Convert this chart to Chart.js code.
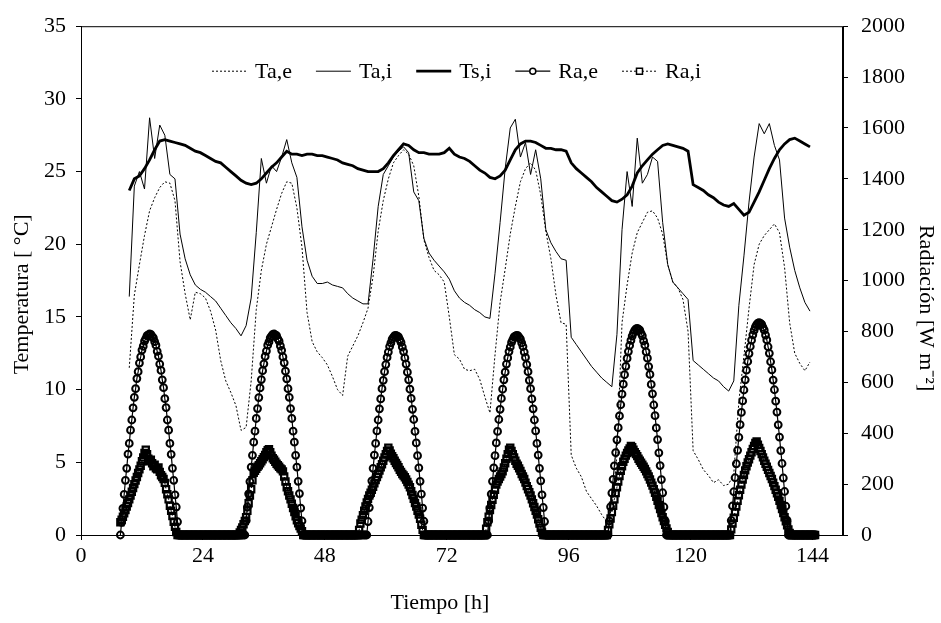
<!DOCTYPE html>
<html>
<head>
<meta charset="utf-8">
<title>Temperatura y radiación</title>
<script src="https://cdn.jsdelivr.net/npm/chart.js@4.4.1/dist/chart.umd.min.js"></script>
<style>
    html, body { margin: 0; padding: 0; background: #fff; }
    #chart { display: block; }
</style>
</head>
<body>
<canvas id="chart" width="941" height="623"></canvas>
<script>
(function () {
    "use strict";

    // temperatures, one value per hour, first sample at 9.5 h
    var tempStart = 9.5;
    var tempStep = 1;
    var taE = [
        11.5, 16.5, 18.6, 20.6, 22.3, 23.2, 23.9, 24.3, 24.2, 23.0,
        18.8, 16.6, 14.8, 16.7, 16.6, 16.3, 15.4, 14.1, 12.0, 10.6,
        9.8, 8.9, 7.2, 7.4, 10.6, 15.5, 18.2, 20.0, 21.2, 22.4,
        23.5, 24.3, 24.2, 22.5, 19.8, 15.3, 13.3, 12.6, 12.2, 11.7,
        10.9, 10.0, 9.6, 12.3, 13.0, 13.7, 14.6, 15.6, 17.8, 20.9,
        23.0, 24.5, 25.6, 26.1, 26.5, 26.2, 25.4, 23.3, 20.3, 19.1,
        18.2, 17.9, 17.4, 15.0, 12.4, 12.1, 11.4, 11.3, 11.4, 10.7,
        9.5, 8.4, 12.4, 16.0, 18.3, 20.7, 22.6, 24.3, 25.2, 25.6,
        25.1, 23.4, 20.9, 19.0, 16.5, 14.6, 14.5, 5.5, 4.6, 4.0,
        3.0, 2.5, 2.0, 1.4, 0.9, 1.8, 5.5, 14.6, 17.2, 19.4,
        20.8, 21.5, 22.2, 22.3, 21.8, 20.7, 18.6, 17.4, 17.0, 16.2,
        14.0, 5.8, 5.2, 4.5, 4.1, 3.6, 3.8, 3.4, 3.5, 4.2,
        9.2, 12.3, 15.6, 18.6, 20.0, 20.6, 21.0, 21.4, 20.8, 18.4,
        14.6, 12.5, 11.8, 11.3, 11.9
    ];
    var taI = [
        16.4, 24.0, 25.0, 23.8, 28.7, 25.9, 28.2, 27.5, 24.8, 24.5,
        20.7, 19.0, 17.9, 17.2, 16.9, 16.7, 16.4, 16.1, 15.6, 15.1,
        14.6, 14.2, 13.7, 14.4, 16.3, 20.8, 25.9, 24.2, 25.4, 25.0,
        26.0, 27.2, 25.6, 24.6, 21.2, 18.9, 17.8, 17.3, 17.3, 17.4,
        17.2, 17.1, 17.0, 16.6, 16.3, 16.1, 15.9, 15.9, 19.0, 22.6,
        24.8, 25.4, 26.0, 26.4, 26.7, 26.3, 23.6, 23.0, 20.4, 19.4,
        18.9, 18.5, 18.1, 17.6, 16.8, 16.3, 16.0, 15.8, 15.5, 15.3,
        15.0, 14.9, 18.0, 21.5, 25.2, 28.0, 28.6, 26.0, 27.0, 24.8,
        26.5, 24.5, 21.0, 20.1, 19.5, 19.0, 18.9, 13.6, 13.1, 12.6,
        12.1, 11.6, 11.2, 10.8, 10.5, 10.2, 13.8, 21.0, 25.0, 22.6,
        27.3, 24.2, 24.8, 26.0, 25.7, 21.5, 18.6, 17.4, 17.0, 16.6,
        16.2, 12.0, 11.7, 11.4, 11.1, 10.8, 10.6, 10.2, 9.9, 10.6,
        15.8, 19.2, 22.9, 26.0, 28.3, 27.6, 28.3, 26.8, 25.8, 21.8,
        19.8, 18.2, 17.0, 16.0, 15.4
    ];
    var tsI = [
        23.7, 24.5, 24.7, 25.2, 25.8, 26.5, 27.1, 27.2, 27.1, 27.0,
        26.9, 26.8, 26.6, 26.4, 26.3, 26.1, 25.9, 25.7, 25.6, 25.3,
        25.0, 24.7, 24.4, 24.2, 24.1, 24.2, 24.5, 24.9, 25.3, 25.6,
        26.0, 26.4, 26.2, 26.2, 26.1, 26.2, 26.2, 26.1, 26.1, 26.0,
        25.9, 25.8, 25.6, 25.5, 25.4, 25.2, 25.1, 25.0, 25.0, 25.0,
        25.2, 25.6, 26.1, 26.5, 26.9, 26.8, 26.5, 26.3, 26.3, 26.2,
        26.2, 26.2, 26.3, 26.6, 26.2, 26.0, 25.9, 25.7, 25.4, 25.1,
        24.9, 24.6, 24.5, 24.7, 25.1, 25.8, 26.5, 26.9, 27.1, 27.1,
        27.0, 26.8, 26.6, 26.6, 26.5, 26.5, 26.4, 25.6, 25.2, 24.9,
        24.6, 24.3, 23.9, 23.6, 23.3, 23.0, 22.9, 23.1, 23.4, 24.0,
        24.9, 25.4, 25.8, 26.2, 26.5, 26.8, 26.9, 26.8, 26.7, 26.6,
        26.4, 24.1, 23.9, 23.7, 23.4, 23.2, 22.9, 22.7, 22.6, 22.8,
        22.4, 22.0, 22.2, 22.9, 23.6, 24.4, 25.2, 25.9, 26.5, 26.9,
        27.2, 27.3, 27.1, 26.9, 26.7
    ];

    // radiation every 15 min, one row per day starting at these hours
    var radDayStart = [7.75, 31.75, 55.75, 79.75, 103.75, 127.75];
    var radStep = 0.25;
    var raE = [
        [0, 50, 105, 160, 215, 262, 318, 360, 412, 452, 500, 541, 575, 615, 642, 676, 700, 727, 742, 762, 772, 784, 787, 790,
         789, 781, 775, 760, 746, 722, 703, 672, 647, 610, 579, 536, 501, 452, 412, 360, 317, 262, 215, 158, 110, 52, 0,
         0, 0, 0, 0, 0, 0, 0, 0, 0, 0, 0, 0, 0, 0, 0, 0, 0, 0, 0, 0, 0, 0, 0, 0, 0, 0, 0, 0, 0, 0,
         0, 0, 0, 0, 0, 0, 0, 0, 0, 0, 0, 0, 0, 0, 0, 0, 0, 0, 0],
        [0, 0,
         0, 56, 110, 162, 210, 267, 313, 365, 408, 458, 497, 540, 578, 611, 646, 673, 702, 723, 746, 759, 775, 782, 789, 790,
         787, 784, 771, 762, 743, 726, 700, 677, 644, 614, 575, 541, 497, 458, 408, 365, 313, 267, 211, 163, 106, 55, 0,
         0, 0, 0, 0, 0, 0, 0, 0, 0, 0, 0, 0, 0, 0, 0, 0, 0, 0, 0, 0, 0, 0, 0, 0, 0, 0, 0, 0, 0, 0,
         0, 0, 0, 0, 0, 0, 0, 0, 0, 0, 0, 0, 0, 0, 0, 0, 0],
        [0, 0,
         0, 53, 108, 158, 213, 262, 314, 360, 409, 452, 496, 535, 575, 608, 642, 670, 698, 719, 741, 755, 770, 777, 784, 785,
         782, 779, 768, 757, 739, 721, 696, 672, 640, 610, 573, 537, 494, 454, 407, 362, 312, 264, 211, 161, 106, 54, 0,
         0, 0, 0, 0, 0, 0, 0, 0, 0, 0, 0, 0, 0, 0, 0, 0, 0, 0, 0, 0, 0, 0, 0, 0, 0, 0, 0, 0, 0, 0,
         0, 0, 0, 0, 0, 0, 0, 0, 0, 0, 0, 0, 0, 0, 0, 0, 0],
        [0,
         0, 55, 106, 161, 211, 264, 312, 362, 407, 454, 494, 537, 573, 610, 640, 672, 696, 721, 739, 757, 768, 779, 782, 785,
         784, 777, 770, 755, 741, 719, 698, 670, 642, 608, 575, 535, 496, 452, 409, 360, 314, 262, 213, 158, 108, 53, 0,
         0, 0, 0, 0, 0, 0, 0, 0, 0, 0, 0, 0, 0, 0, 0, 0, 0, 0, 0, 0, 0, 0, 0, 0, 0, 0, 0, 0, 0, 0,
         0, 0, 0, 0, 0, 0, 0, 0, 0, 0, 0, 0, 0, 0, 0, 0, 0, 0],
        [0, 55, 111, 165, 219, 272, 324, 374, 422, 468, 512, 554, 593, 630, 663, 694, 721, 745, 765, 782, 795, 804, 810, 812,
         809, 805, 793, 783, 763, 746, 720, 695, 662, 631, 592, 555, 511, 469, 421, 375, 323, 273, 218, 166, 110, 56, 0,
         0, 0, 0, 0, 0, 0, 0, 0, 0, 0, 0, 0, 0, 0, 0, 0, 0, 0, 0, 0, 0, 0, 0, 0, 0, 0, 0, 0, 0, 0,
         0, 0, 0, 0, 0, 0, 0, 0, 0, 0, 0, 0, 0, 0, 0, 0, 0, 0, 0],
        [0, 57, 114, 170, 225, 280, 333, 384, 434, 482, 527, 570, 610, 648, 682, 713, 741, 766, 787, 804, 818, 827, 833, 835,
         832, 828, 816, 805, 786, 767, 740, 714, 681, 649, 609, 571, 526, 483, 433, 385, 332, 281, 224, 171, 113, 58, 0,
         0, 0, 0, 0, 0, 0, 0, 0, 0, 0, 0, 0, 0, 0, 0, 0, 0, 0, 0, 0, 0]
    ];
    var raI = [
        [50, 60, 72, 85, 98, 112, 126, 140, 155, 170, 185, 200, 214, 228, 244, 258, 272, 290, 305, 322,
         335, 318, 300, 290, 296, 282, 270, 276, 262, 258, 265, 248, 235, 228, 220, 205, 180, 160, 140, 115,
         95, 75, 52, 32, 12, 0,
         0, 0, 0, 0, 0, 0, 0, 0, 0, 0, 0, 0, 0, 0, 0, 0, 0, 0, 0, 0, 0, 0, 0, 0, 0, 0, 0, 0, 0, 0,
         0, 0, 0, 0, 0, 0, 0, 0, 0, 0, 0, 0, 0, 0, 0, 0, 0, 0,
         10, 20],
        [30, 42, 55, 70, 95, 125, 155, 180, 215, 245, 252, 260, 268, 274, 282, 290, 298, 306, 315, 325,
         333, 337, 325, 312, 302, 296, 288, 280, 274, 268, 262, 258, 250, 230, 210, 188, 172, 155, 140, 123,
         106, 90, 74, 58, 46, 35, 25, 15, 0,
         0, 0, 0, 0, 0, 0, 0, 0, 0, 0, 0, 0, 0, 0, 0, 0, 0, 0, 0, 0, 0, 0, 0, 0, 0, 0, 0, 0, 0, 0,
         0, 0, 0, 0, 0, 0, 0, 0, 0, 0, 0, 0, 0,
         20, 45, 60, 78],
        [95, 112, 128, 142, 155, 166, 178, 190, 203, 216, 228, 240, 253, 266, 278, 292, 305, 318, 330, 343,
         332, 320, 310, 302, 292, 283, 275, 266, 256, 248, 240, 234, 227, 218, 208, 198, 188, 172, 157, 142,
         126, 112, 95, 80, 64, 40, 20, 0,
         0, 0, 0, 0, 0, 0, 0, 0, 0, 0, 0, 0, 0, 0, 0, 0, 0, 0, 0, 0, 0, 0, 0, 0, 0, 0, 0, 0, 0, 0,
         0, 0, 0, 0, 0, 0, 0, 0, 0, 0, 0, 0, 0, 0, 0, 0, 0, 0],
        [25, 50, 72, 98, 118, 138, 158, 178, 198, 210, 220, 230, 240, 250, 265, 282, 300, 318, 335, 343,
         330, 318, 305, 292, 280, 272, 262, 252, 240, 230, 220, 206, 192, 180, 168, 155, 140, 125, 110, 95,
         80, 62, 45, 28, 10, 0,
         0, 0, 0, 0, 0, 0, 0, 0, 0, 0, 0, 0, 0, 0, 0, 0, 0, 0, 0, 0, 0, 0, 0, 0, 0, 0, 0, 0, 0, 0,
         0, 0, 0, 0, 0, 0, 0, 0, 0, 0, 0, 0, 0, 0, 0, 0, 0, 0, 0, 0],
        [20, 42, 65, 90, 115, 140, 165, 188, 210, 232, 252, 270, 288, 300, 312, 322, 332, 340, 350, 345,
         335, 325, 318, 310, 300, 292, 284, 276, 268, 260, 250, 240, 230, 218, 206, 194, 180, 166, 150, 134,
         118, 102, 86, 70, 55, 40, 26, 12, 0,
         0, 0, 0, 0, 0, 0, 0, 0, 0, 0, 0, 0, 0, 0, 0, 0, 0, 0, 0, 0, 0, 0, 0, 0, 0, 0, 0, 0, 0, 0,
         0, 0, 0, 0, 0, 0, 0, 0, 0, 0, 0, 0, 0, 0, 0, 0, 0],
        [0, 22, 45, 68, 90, 112, 134, 156, 178, 198, 218, 236, 254, 270, 285, 298, 312, 325, 338, 350,
         362, 368, 355, 342, 330, 318, 305, 292, 280, 268, 256, 244, 232, 220, 206, 192, 178, 164, 150, 134,
         118, 102, 86, 70, 54, 38, 22, 8, 0,
         0, 0, 0, 0, 0, 0, 0, 0, 0, 0, 0, 0, 0, 0, 0, 0, 0, 0, 0]
    ];

    var xTicks = [0, 24, 48, 72, 96, 120, 144];
    var tempTicks = [0, 5, 10, 15, 20, 25, 30, 35];
    var radTicks = [0, 200, 400, 600, 800, 1000, 1200, 1400, 1600, 1800, 2000];

    var serif = "'Liberation Serif', 'Times New Roman', serif";

    function hourly(values) {
        return values.map(function (v, i) {
            return { x: tempStart + i * tempStep, y: v };
        });
    }

    function byDay(days) {
        var out = [];
        days.forEach(function (row, d) {
            row.forEach(function (v, i) {
                out.push({ x: radDayStart[d] + i * radStep, y: v });
            });
        });
        return out;
    }

    function fixTicks(list) {
        return function (axis) {
            axis.ticks = list.map(function (v) { return { value: v }; });
        };
    }

    function plain(value) {
        return String(value);
    }

    // legend sits inside the plot, like the original figure
    var insideLegend = {
        id: "insideLegend",
        afterDraw: function (chart) {
            var ctx = chart.ctx;
            var area = chart.chartArea;
            var x = area.left + 131;
            var y = area.top + 45;
            ctx.save();
            ctx.font = "22px " + serif;
            ctx.textBaseline = "middle";
            ctx.fillStyle = "#000";
            ctx.strokeStyle = "#000";
            chart.data.datasets.forEach(function (ds) {
                ctx.lineWidth = ds.borderWidth;
                ctx.setLineDash(ds.borderDash || []);
                ctx.beginPath();
                ctx.moveTo(x, y);
                ctx.lineTo(x + 35, y);
                ctx.stroke();
                ctx.setLineDash([]);
                if (ds.pointRadius > 0) {
                    ctx.lineWidth = 1.5;
                    ctx.beginPath();
                    if (ds.pointStyle === "rect") {
                        ctx.rect(x + 14.5, y - 3, 6, 6);
                    } else {
                        ctx.arc(x + 17.5, y, 3, 0, Math.PI * 2);
                    }
                    ctx.fillStyle = "#fff";
                    ctx.fill();
                    ctx.stroke();
                    ctx.fillStyle = "#000";
                }
                ctx.fillText(ds.label, x + 43, y + 1);
                x += 43 + ctx.measureText(ds.label).width + 24;
            });
            // closed frame around the plot
            ctx.lineWidth = 1;
            ctx.strokeRect(area.left + 0.5, area.top + 0.5, area.right - area.left - 1, area.bottom - area.top);
            ctx.restore();
        }
    };

    var tickFont = { family: serif, size: 22 };

    new Chart(document.getElementById("chart"), {
        type: "line",
        data: {
            datasets: [
                {
                    label: "Ta,e",
                    data: hourly(taE),
                    yAxisID: "yT",
                    borderColor: "#000",
                    borderWidth: 1,
                    borderDash: [2, 2],
                    pointRadius: 0,
                    order: 4
                },
                {
                    label: "Ta,i",
                    data: hourly(taI),
                    yAxisID: "yT",
                    borderColor: "#000",
                    borderWidth: 1,
                    pointRadius: 0,
                    order: 3
                },
                {
                    label: "Ts,i",
                    data: hourly(tsI),
                    yAxisID: "yT",
                    borderColor: "#000",
                    borderWidth: 2.8,
                    pointRadius: 0,
                    order: 2
                },
                {
                    label: "Ra,e",
                    data: byDay(raE),
                    yAxisID: "yR",
                    borderColor: "#000",
                    borderWidth: 1.2,
                    pointStyle: "circle",
                    pointRadius: 3.4,
                    pointBorderWidth: 2,
                    pointBorderColor: "#000",
                    pointBackgroundColor: "rgba(255,255,255,0)",
                    clip: false,
                    order: 1
                },
                {
                    label: "Ra,i",
                    data: byDay(raI),
                    yAxisID: "yR",
                    borderColor: "#000",
                    borderWidth: 1,
                    borderDash: [2, 2],
                    pointStyle: "rect",
                    pointRadius: 4.4,
                    pointBorderWidth: 2.2,
                    pointBorderColor: "#000",
                    pointBackgroundColor: "rgba(255,255,255,0)",
                    clip: false,
                    order: 0
                }
            ]
        },
        options: {
            responsive: false,
            animation: false,
            devicePixelRatio: 1,
            layout: { padding: { top: 20, left: 0, right: 0, bottom: 0 } },
            elements: { line: { tension: 0 } },
            plugins: {
                legend: { display: false },
                tooltip: { enabled: false }
            },
            scales: {
                x: {
                    type: "linear",
                    position: "bottom",
                    min: 0,
                    max: 150,
                    afterBuildTicks: fixTicks(xTicks),
                    afterFit: function (scale) { scale.height = 88; },
                    border: { display: true, color: "#000", width: 1 },
                    grid: { drawOnChartArea: false, drawTicks: true, tickLength: 5, color: "#000" },
                    ticks: { color: "#000", font: tickFont, padding: 3, maxRotation: 0, autoSkip: false, callback: plain },
                    title: {
                        display: true,
                        text: "Tiempo [h]        ",
                        color: "#000",
                        font: tickFont,
                        padding: { top: 0, bottom: 7 }
                    }
                },
                yT: {
                    type: "linear",
                    position: "left",
                    min: 0,
                    max: 35,
                    afterBuildTicks: fixTicks(tempTicks),
                    afterFit: function (scale) { scale.width = 81; },
                    border: { display: true, color: "#000", width: 1 },
                    grid: { drawOnChartArea: false, drawTicks: true, tickLength: 5, color: "#000" },
                    ticks: { color: "#000", font: tickFont, padding: 10, callback: plain },
                    title: {
                        display: true,
                        text: "Temperatura [ °C]     ",
                        color: "#000",
                        font: tickFont,
                        padding: { top: 9, bottom: 0 }
                    }
                },
                yR: {
                    type: "linear",
                    position: "right",
                    min: 0,
                    max: 2000,
                    afterBuildTicks: fixTicks(radTicks),
                    afterFit: function (scale) { scale.width = 98; },
                    border: { display: true, color: "#000", width: 1 },
                    grid: { drawOnChartArea: false, drawTicks: true, tickLength: 5, color: "#000" },
                    ticks: { color: "#000", font: tickFont, padding: 13, callback: plain },
                    title: {
                        display: true,
                        text: "          Radiación [W m\u207B\u00B2]",
                        color: "#000",
                        font: tickFont,
                        padding: { top: 2, bottom: 0 }
                    }
                }
            }
        },
        plugins: [insideLegend]
    });
})();
</script>
</body>
</html>
